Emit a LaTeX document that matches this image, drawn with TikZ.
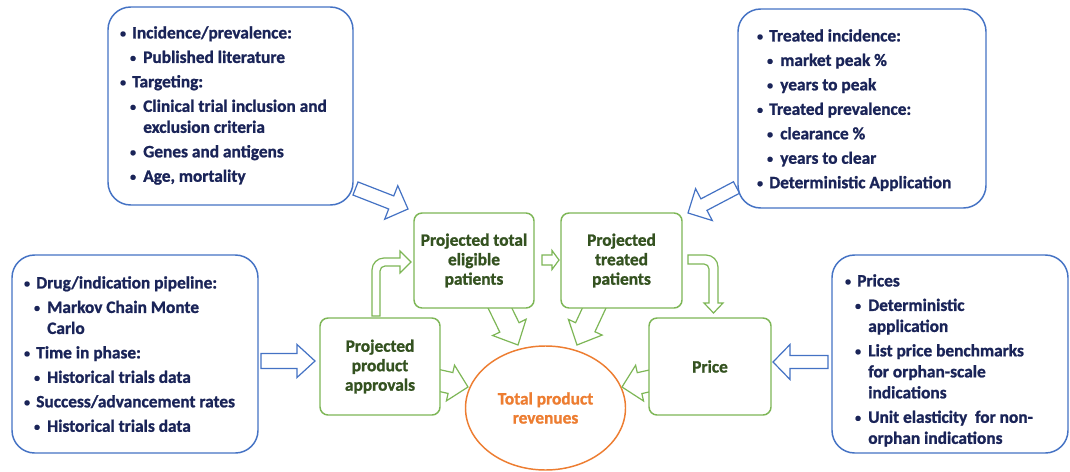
\documentclass[tikz,border=0pt]{standalone}
\usepackage{fontspec}
\setmainfont{Carlito}[BoldFeatures={FakeBold=1.2}]
\usetikzlibrary{shapes.geometric}

\definecolor{boxblue}{RGB}{68,114,196}
\definecolor{navy}{RGB}{26,36,88}
\definecolor{leaf}{RGB}{125,182,86}
\definecolor{darkleaf}{RGB}{52,82,32}
\definecolor{orangeline}{RGB}{237,125,49}

% small list bullet
\newcommand{\dotmark}{\raisebox{0.8pt}{\fontsize{9}{9}\selectfont\textbullet}}
% bulleted lines: first level, second level, wrapped continuation
\newcommand{\itemA}[1]{\makebox[9.75pt][l]{\hspace*{0.6pt}\dotmark}#1}
\newcommand{\itemB}[1]{\hspace*{7.5pt}\makebox[10.5pt][l]{\hspace*{0.6pt}\dotmark}#1}
\newcommand{\itemC}[1]{\hspace*{18pt}#1}

% block arrow: style, tail x, tail y, tip x, tip y, shaft half width, head half width, head length
\newcommand{\blockarrow}[8]{%
  \pgfmathsetmacro\BAdx{#4-(#2)}%
  \pgfmathsetmacro\BAdy{#5-(#3)}%
  \pgfmathsetmacro\BAlen{veclen(\BAdx,\BAdy)}%
  \pgfmathsetmacro\BAux{\BAdx/\BAlen}%
  \pgfmathsetmacro\BAuy{\BAdy/\BAlen}%
  \pgfmathsetmacro\BAbx{#4-#8*(\BAux)}%
  \pgfmathsetmacro\BAby{#5-#8*(\BAuy)}%
  \draw[#1] ({#2-#6*(\BAuy)},{#3+#6*(\BAux)})
    -- ({\BAbx-#6*(\BAuy)},{\BAby+#6*(\BAux)})
    -- ({\BAbx-#7*(\BAuy)},{\BAby+#7*(\BAux)})
    -- (#4,#5)
    -- ({\BAbx+#7*(\BAuy)},{\BAby-#7*(\BAux)})
    -- ({\BAbx+#6*(\BAuy)},{\BAby-#6*(\BAux)})
    -- ({#2+#6*(\BAuy)},{#3-#6*(\BAux)}) -- cycle;}

\tikzset{
  pxsize/.style 2 args={minimum width=#1*0.75pt, minimum height=#2*0.75pt},
  infobox/.style={draw=boxblue, line width=1.1pt, rounded corners=17pt, fill=white, inner sep=0pt},
  infotext/.style={anchor=north west, inner sep=0pt, text=navy, align=left,
    font=\fontsize{13}{15.75}\selectfont\bfseries},
  stagebox/.style={draw=leaf, line width=1.1pt, rounded corners=6pt, fill=white, inner sep=0pt,
    text=darkleaf, align=center, font=\fontsize{13}{14.6}\selectfont\bfseries},
  bluearrow/.style={draw=boxblue, line width=0.9pt, fill=white},
  greenarrow/.style={draw=leaf, line width=0.9pt, fill=white},
}

\begin{document}
\begin{tikzpicture}[x=0.75pt,y=-0.75pt]
\useasboundingbox (0,0) rectangle (1070,471);

% central outcome
\node[ellipse, draw=orangeline, line width=1.1pt, fill=white, pxsize={160}{124}, inner sep=0pt,
  text=orangeline, align=center, font=\fontsize{13}{14.3}\selectfont\bfseries]
  (rev) at (545.5,408) {Total product\\revenues};

% input arrows from the information boxes
\blockarrow{bluearrow}{355.5}{188.5}{408}{209}{7}{18}{18}
\blockarrow{bluearrow}{736.5}{187.5}{688}{213}{6.5}{18}{18}
\blockarrow{bluearrow}{261}{361}{315}{361}{7.5}{16.5}{18}
\blockarrow{bluearrow}{828}{362}{773}{362}{6.5}{17.5}{17}

% flows into total revenues
\blockarrow{greenarrow}{497}{302}{518}{345}{10.7}{18.6}{19.6}
\blockarrow{greenarrow}{597}{302}{577}{345}{10.7}{18.6}{19.6}
\blockarrow{greenarrow}{435}{379.5}{468}{387}{10.7}{18.3}{18}
\blockarrow{greenarrow}{655}{379.7}{622}{387}{10.7}{18.3}{18}

% eligible -> treated
\blockarrow{greenarrow}{542}{260}{559}{260}{5}{9.5}{7}

% approvals -> eligible (bent up)
\draw[greenarrow] (372,316) -- (372,270) .. controls (372,263.4) and (377.4,258) .. (384,258)
  -- (400,258) -- (400,251) -- (411,262) -- (400,273) -- (400,266) -- (385,266)
  .. controls (382.2,266) and (380,268.2) .. (380,271) -- (380,316) -- cycle;

% treated -> price (bent down)
\draw[greenarrow] (688,255) -- (706,255) .. controls (712.6,255) and (718,260.4) .. (718,267)
  -- (718,303) -- (723,303) -- (713.5,313) -- (704,303) -- (709,303) -- (709,269)
  .. controls (709,266.2) and (706.8,264) .. (704,264) -- (688,264) -- cycle;

% information boxes
\node[infobox, pxsize={245}{198}] (sources) at (230.5,106) {};
\node[infotext] (sourcestext) at (119,26) {%
  \itemA{Incidence/prevalence:}\\[2.6pt]
  \itemB{Published literature}\\[2.6pt]
  \itemA{Targeting:}\\[2.6pt]
  \itemB{Clinical trial inclusion and}\\
  \itemC{exclusion criteria}\\[2.6pt]
  \itemB{Genes and antigens}\\[2.6pt]
  \itemB{Age, mortality}};

\node[infobox, pxsize={248}{199}] (uptake) at (862,108.5) {};
\node[infotext] (uptaketext) at (756,29) {%
  \itemA{Treated incidence:}\\[2.6pt]
  \itemB{market peak \%}\\[2.6pt]
  \itemB{years to peak}\\[2.6pt]
  \itemA{Treated prevalence:}\\[2.6pt]
  \itemB{clearance \%}\\[2.6pt]
  \itemB{years to clear}\\[2.6pt]
  \itemA{Deterministic Application}};

\node[infobox, pxsize={246}{198}] (pipeline) at (135,354) {};
\node[infotext] (pipelinetext) at (23,276) {%
  \itemA{Drug/indication pipeline:}\\[2.6pt]
  \itemB{Markov Chain Monte}\\
  \itemC{Carlo}\\[2.6pt]
  \itemA{Time in phase:}\\[2.6pt]
  \itemB{Historical trials data}\\[2.6pt]
  \itemA{Success/advancement rates}\\[2.6pt]
  \itemB{Historical trials data}};

\node[infobox, pxsize={236}{198}] (prices) at (950,354) {};
\node[infotext] (pricestext) at (844,274) {%
  \itemA{Prices}\\[2.6pt]
  \itemB{Deterministic}\\
  \itemC{application}\\[2.6pt]
  \itemB{List price benchmarks}\\
  \itemC{for orphan-scale}\\
  \itemC{indications}\\[2.6pt]
  \itemB{Unit elasticity~ for non-}\\
  \itemC{orphan indications}};

% model stages
\node[stagebox, pxsize={120}{95}] (eligible) at (474,260.5) {Projected total\\eligible\\patients};
\node[stagebox, pxsize={121}{95}] (treated) at (621.5,260.5) {Projected\\treated\\patients};
\node[stagebox, pxsize={120}{97}] (approvals) at (380,366.5) {Projected\\product\\approvals};
\node[stagebox, pxsize={122}{97}] (price) at (710,366.5) {Price};
\end{tikzpicture}
\end{document}
